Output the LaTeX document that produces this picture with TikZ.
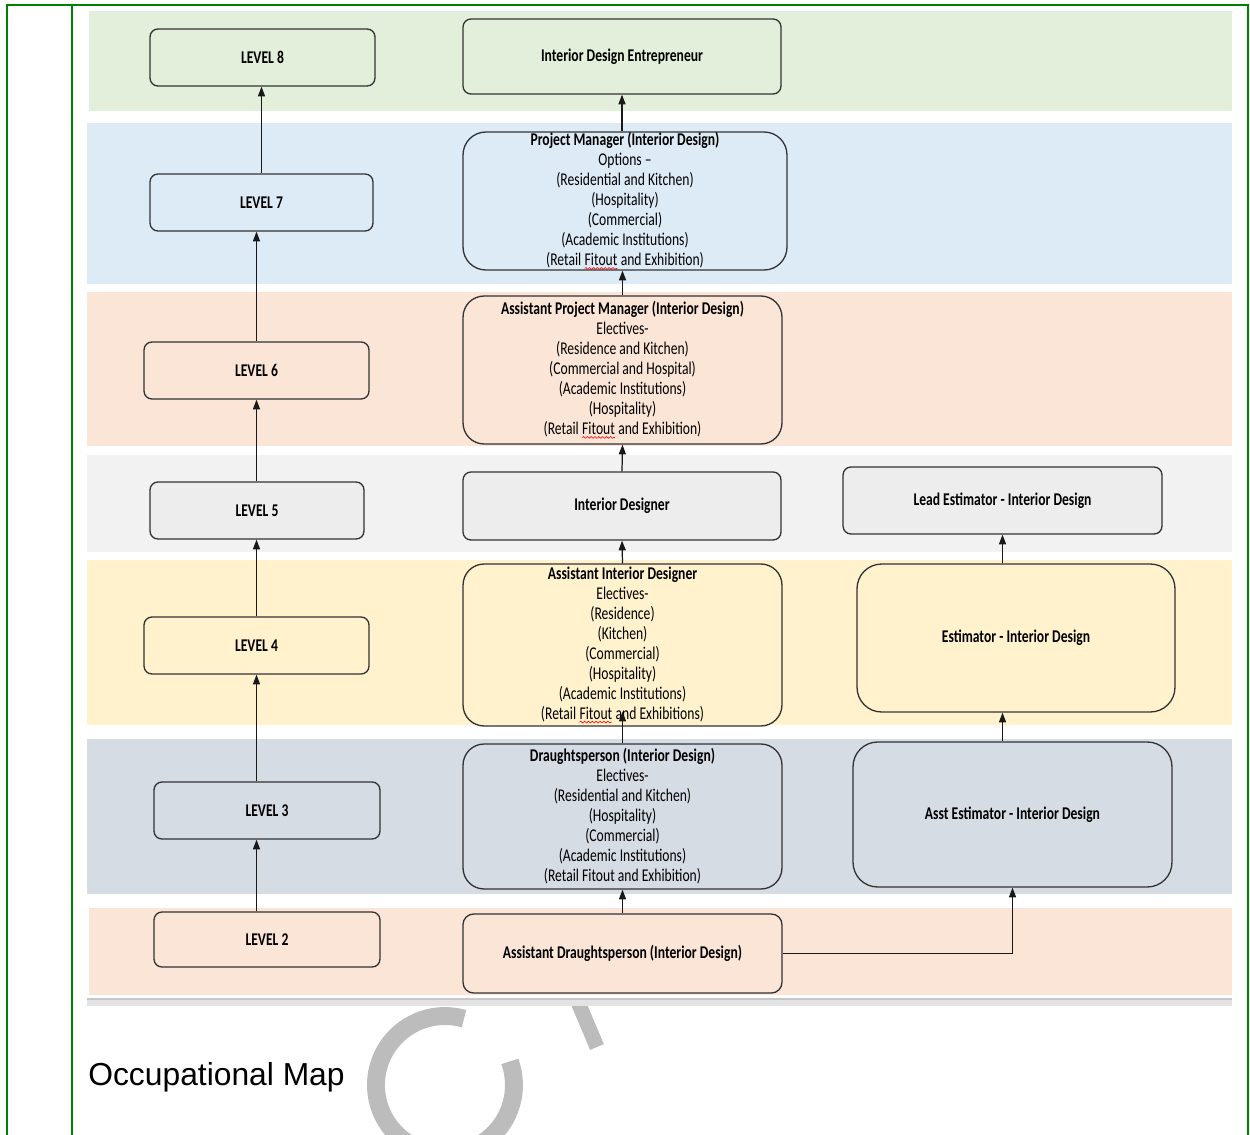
\documentclass[tikz,border=0pt]{standalone}
\usepackage{fontspec}
\setmainfont{Carlito}[FakeStretch=0.76]
\newfontfamily\mapfont{Liberation Sans}
\usetikzlibrary{arrows.meta,positioning,decorations.pathmorphing}

\definecolor{frame}{HTML}{008000}
\definecolor{bandeight}{HTML}{E2EFDA}
\definecolor{bandseven}{HTML}{DDEBF7}
\definecolor{bandsix}{HTML}{FBE5D6}
\definecolor{bandfive}{HTML}{F2F2F2}
\definecolor{boxfive}{HTML}{EDEDED}
\definecolor{bandfour}{HTML}{FFF2CC}
\definecolor{bandthree}{HTML}{D6DCE4}
\definecolor{wmgray}{HTML}{BDBCBD}

\newcommand\boxfont{\fontsize{10.2}{11.38}\selectfont}
\newcommand\spellmark[1]{\tikz[baseline=(sw.base)]{\node[inner sep=0pt, outer sep=0pt, minimum width=0pt,
    minimum height=0pt, draw=none, fill=none, rounded corners=0pt] (sw) {#1};
  \draw[red, line width=0.35pt, rounded corners=0pt, decorate, decoration={snake, amplitude=0.5pt, segment length=2.2pt}]
    ([yshift=-1.6pt]sw.base west) -- ([yshift=-1.6pt]sw.base east);}}

\tikzset{
  lvl/.style={draw=black!80, line width=0.75pt, rounded corners=4.5pt, inner sep=0pt,
    font=\boxfont\bfseries, minimum height=1.14cm},
  role/.style={draw=black!80, line width=0.75pt, inner sep=0pt, align=center, font=\boxfont},
  up/.style={-{Triangle[length=5.5pt,width=4pt]}, line width=0.7pt, black!90},
}

\begin{document}
\begin{tikzpicture}[x=0.02cm, y=-0.02cm]
  \useasboundingbox (0,0) rectangle (1250,1135);

  % table frame
  \draw[frame, line width=1.1pt] (7,1135) -- (7,5) -- (1248,5) -- (1248,1135);
  \draw[frame, line width=1.1pt] (72,5) -- (72,1135);

  % watermark
  \begin{scope}
    \clip (80,1006) rectangle (1240,1135);
    \draw[wmgray, line width=10.2pt] (464,1018.7) arc[start angle=-74, end angle=-380, radius=69];
    \draw[wmgray, line width=8.5pt] (575,995) -- (597,1047);
  \end{scope}

  % level bands
  \fill[bandeight] (89,11) rectangle (1232,111);
  \fill[bandseven] (87,123) rectangle (1232,284);
  \fill[bandsix] (87,292) rectangle (1232,446);
  \fill[bandfive] (87,455) rectangle (1232,552);
  \fill[bandfour] (87,560) rectangle (1232,725);
  \fill[bandthree] (87,739) rectangle (1232,894);
  \fill[bandsix] (89,908) rectangle (1232,995);
  \fill[black!22] (87,998) rectangle (1232,1000);
  \fill[black!11] (87,1000) rectangle (1232,1006);

  % levels
  \node[lvl, fill=bandeight, minimum width=4.5cm] (L8) at (262.5,57.5) {LEVEL 8};
  \node[lvl, fill=bandseven, minimum width=4.46cm] (L7) at (261.5,202.5) {LEVEL 7};
  \node[lvl, fill=bandsix, minimum width=4.5cm] (L6) at (256.5,370.5) {LEVEL 6};
  \node[lvl, fill=boxfive, minimum width=4.28cm] (L5) at (257,510.5) {LEVEL 5};
  \node[lvl, fill=bandfour, minimum width=4.5cm] (L4) at (256.5,645.5) {LEVEL 4};
  \node[lvl, fill=bandthree, minimum width=4.52cm] (L3) at (267,810.5) {LEVEL 3};
  \node[lvl, fill=bandsix, minimum width=4.52cm, minimum height=1.1cm] (L2) at (267,939.5) {LEVEL 2};

  % interior design roles
  \node[role, fill=bandeight, rounded corners=4.5pt, minimum width=6.36cm, minimum height=1.5cm,
    font=\boxfont\bfseries] (IDE) at (622,56.5) {Interior Design Entrepreneur};
  \node[role, fill=bandseven, rounded corners=13pt, minimum width=6.48cm, minimum height=2.76cm] (PM) at (625,201)
    {\textbf{Project Manager (Interior Design)}\\Options --\\(Residential and Kitchen)\\(Hospitality)\\(Commercial)\\(Academic Institutions)\\(Retail \spellmark{Fitout} and Exhibition)};
  \node[role, fill=bandsix, rounded corners=12pt, minimum width=6.38cm, minimum height=2.96cm] (APM) at (622.5,370)
    {\textbf{Assistant Project Manager (Interior Design)}\\Electives-\\(Residence and Kitchen)\\(Commercial and Hospital)\\(Academic Institutions)\\(Hospitality)\\(Retail \spellmark{Fitout} and Exhibition)};
  \node[role, fill=boxfive, rounded corners=4.5pt, minimum width=6.36cm, minimum height=1.36cm,
    font=\boxfont\bfseries] (ID) at (622,506) {Interior Designer};
  \node[role, fill=bandfour, rounded corners=12pt, minimum width=6.38cm, minimum height=3.24cm] (AID) at (622.5,645)
    {\textbf{Assistant Interior Designer}\\Electives-\\(Residence)\\(Kitchen)\\(Commercial)\\(Hospitality)\\(Academic Institutions)\\(Retail \spellmark{Fitout} and Exhibitions)};
  \node[role, fill=bandthree, rounded corners=12pt, minimum width=6.38cm, minimum height=2.9cm] (DP) at (622.5,816.5)
    {\textbf{Draughtsperson (Interior Design)}\\Electives-\\(Residential and Kitchen)\\(Hospitality)\\(Commercial)\\(Academic Institutions)\\(Retail Fitout and Exhibition)};
  \node[role, fill=bandsix, rounded corners=6pt, minimum width=6.38cm, minimum height=1.58cm,
    font=\boxfont\bfseries] (AD) at (622.5,953.5) {Assistant Draughtsperson (Interior Design)};

  % estimator roles
  \node[role, fill=boxfive, rounded corners=4.5pt, minimum width=6.38cm, minimum height=1.34cm,
    font=\boxfont\bfseries] (LE) at (1002.5,500.5) {Lead Estimator - Interior Design};
  \node[role, fill=bandfour, rounded corners=14pt, minimum width=6.36cm, minimum height=2.96cm,
    font=\boxfont\bfseries] (E) at (1016,638) {Estimator - Interior Design};
  \node[role, fill=bandthree, rounded corners=14pt, minimum width=6.38cm, minimum height=2.9cm,
    font=\boxfont\bfseries] (AE) at (1012.5,814.5) {Asst Estimator - Interior Design};

  % progression arrows
  \draw[up] (L2.north -| L4.north) -- (L3.south -| L4.north);
  \draw[up] (L3.north -| L4.north) -- (L4.south);
  \draw[up] (L4.north) -- (L5.south -| L4.north);
  \draw[up] (L5.north -| L4.north) -- (L6.south);
  \draw[up] (L6.north) -- (L7.south -| L6.north);
  \draw[up] (L7.north) -- (L8.south -| L7.north);

  \draw[up] (AD.north) -- (DP.south);
  \draw[up] (DP.north) -- ([yshift=8.5pt]AID.south);
  \draw[up] (AID.north) -- (ID.south);
  \draw[up] (ID.north) -- (APM.south);
  \draw[up] (APM.north) -- (APM.north |- PM.south);
  \draw[up] (PM.north -| IDE.south) -- (IDE.south);

  \draw[up] (AD.east) -| (AE.south);
  \draw[up] (AE.north -| LE.south) -- (E.south -| LE.south);
  \draw[up] (E.north -| LE.south) -- (LE.south);

  \node[font=\mapfont\fontsize{18.1}{21}\selectfont, anchor=base west, inner sep=0pt] (title) at (88,1085) {Occupational Map};
\end{tikzpicture}
\end{document}
